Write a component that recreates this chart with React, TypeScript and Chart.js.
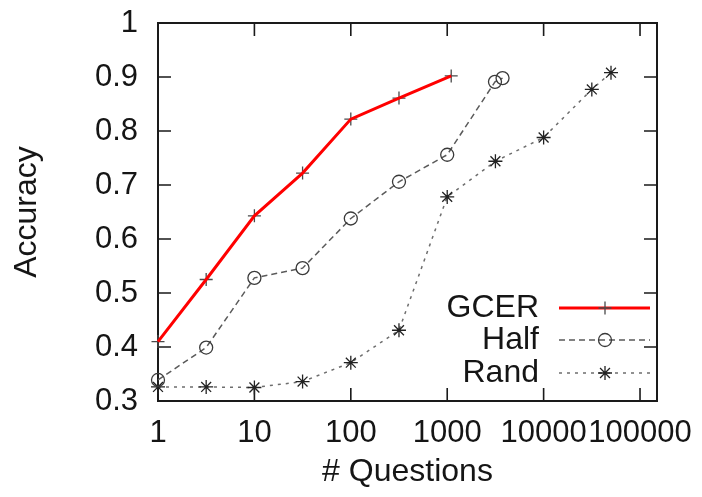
import { useEffect, useRef } from 'react';
import { Chart, registerables } from 'chart.js';

Chart.register(...registerables);

// ---- data ----
const seriesNames = ['GCER', 'Half', 'Rand'];
const gcerX = [1, 3.16, 10, 31.6, 100, 316, 1100];
const gcerY = [0.41, 0.525, 0.643, 0.722, 0.822, 0.861, 0.902];
const halfX = [1, 3.16, 10, 31.6, 100, 316, 1000, 3130, 3750];
const halfY = [0.339, 0.399, 0.528, 0.546, 0.638, 0.706, 0.756, 0.891, 0.898];
const randX = [1, 3.16, 10, 31.6, 100, 316, 1000, 3162, 10000, 31623, 50000];
const randY = [0.326, 0.326, 0.325, 0.336, 0.371, 0.431, 0.678, 0.744, 0.788, 0.877, 0.908];
const xTickValues = [1, 10, 100, 1000, 10000, 100000];
const yTickValues = [0.3, 0.4, 0.5, 0.6, 0.7, 0.8, 0.9, 1.0];
const xTitle = '# Questions';
const yTitle = 'Accuracy';

const toPoints = (xs: number[], ys: number[]) => xs.map((x, i) => ({ x, y: ys[i] }));

const FONT = '"Liberation Sans", Arial, sans-serif';
const TEXT = '#151515';

function drawMarker(ctx: CanvasRenderingContext2D, style: string, x: number, y: number, r: number) {
  ctx.beginPath();
  if (style === 'circle') {
    ctx.arc(x, y, r, 0, Math.PI * 2);
  } else {
    ctx.moveTo(x - r, y);
    ctx.lineTo(x + r, y);
    ctx.moveTo(x, y - r);
    ctx.lineTo(x, y + r);
    if (style === 'star') {
      const d = r * Math.SQRT1_2;
      ctx.moveTo(x - d, y - d);
      ctx.lineTo(x + d, y + d);
      ctx.moveTo(x - d, y + d);
      ctx.lineTo(x + d, y - d);
    }
  }
  ctx.stroke();
}

const framePlugin = {
  id: 'frameTicks',
  beforeDatasetsDraw(chart: any) {
    const { ctx, chartArea: a, scales } = chart;
    const L = 13;
    ctx.save();
    ctx.strokeStyle = '#1a1a1a';
    ctx.lineWidth = 1.6;
    ctx.beginPath();
    for (const v of xTickValues) {
      const px = scales.x.getPixelForValue(v);
      if (px <= a.left + 1 || px >= a.right - 1) continue;
      ctx.moveTo(px, a.bottom);
      ctx.lineTo(px, a.bottom - L);
      ctx.moveTo(px, a.top);
      ctx.lineTo(px, a.top + L);
    }
    for (const v of yTickValues) {
      const py = scales.y.getPixelForValue(v);
      if (py <= a.top + 1 || py >= a.bottom - 1) continue;
      ctx.moveTo(a.left, py);
      ctx.lineTo(a.left + L, py);
      ctx.moveTo(a.right, py);
      ctx.lineTo(a.right - L, py);
    }
    ctx.stroke();
    ctx.lineWidth = 2;
    ctx.strokeRect(a.left, a.top, a.right - a.left, a.bottom - a.top);
    ctx.restore();
  },
};

const legendPlugin = {
  id: 'insideLegend',
  afterDraw(chart: any) {
    const { ctx, chartArea: a } = chart;
    const ds = chart.data.datasets;
    const items = [
      { label: seriesNames[0], line: ds[0], marker: ds[3] },
      { label: seriesNames[1], line: ds[1], marker: ds[1] },
      { label: seriesNames[2], line: ds[2], marker: ds[2] },
    ];
    const offsets = [93, 61, 28];
    const textX = a.right - 118;
    const x0 = a.right - 98;
    const x1 = a.right - 7;
    const mx = a.right - 52;
    ctx.save();
    items.forEach((it, i) => {
      const y = a.bottom - offsets[i];
      ctx.font = `32px ${FONT}`;
      ctx.fillStyle = TEXT;
      ctx.textAlign = 'right';
      ctx.textBaseline = 'middle';
      ctx.fillText(it.label, textX, y);
      // line sample
      ctx.strokeStyle = it.line.borderColor;
      ctx.lineWidth = it.line.borderWidth;
      ctx.setLineDash(it.line.borderDash || []);
      ctx.beginPath();
      ctx.moveTo(x0, y);
      ctx.lineTo(x1, y);
      ctx.stroke();
      ctx.setLineDash([]);
      // marker
      ctx.strokeStyle = it.marker.pointBorderColor;
      ctx.lineWidth = it.marker.pointBorderWidth;
      drawMarker(ctx, it.marker.pointStyle, mx, y, it.marker.pointRadius);
    });
    ctx.restore();
  },
};

export default function App() {
  const ref = useRef<HTMLCanvasElement | null>(null);

  useEffect(() => {
    document.body.style.margin = '0';
    const canvas = ref.current;
    if (!canvas) return;
    const chart = new Chart(canvas, {
      type: 'scatter',
      data: {
        datasets: [
          {
            label: seriesNames[0],
            data: toPoints(gcerX, gcerY),
            showLine: true,
            borderColor: '#ff0000',
            borderWidth: 3,
            pointRadius: 0,
            order: 0,
            clip: false,
          } as any,
          {
            label: seriesNames[1],
            data: toPoints(halfX, halfY),
            showLine: true,
            borderColor: '#5a5a5a',
            borderWidth: 1.5,
            borderDash: [6, 4],
            pointStyle: 'circle',
            pointRadius: 6.5,
            pointBorderColor: '#3a3a3a',
            pointBorderWidth: 1.3,
            pointBackgroundColor: 'rgba(0,0,0,0)',
            order: 1,
            clip: false,
          },
          {
            label: seriesNames[2],
            data: toPoints(randX, randY),
            showLine: true,
            borderColor: '#6e6e6e',
            borderWidth: 1.5,
            borderDash: [3, 5],
            pointStyle: 'star',
            pointRadius: 7,
            pointBorderColor: '#222222',
            pointBorderWidth: 1.3,
            order: 2,
            clip: false,
          },
          {
            label: seriesNames[0] + ' marks',
            data: toPoints(gcerX, gcerY),
            showLine: false,
            pointStyle: 'cross',
            pointRadius: 6.5,
            pointBorderColor: '#4a4a4a',
            pointBorderWidth: 1.3,
            order: 3,
            clip: false,
          },
        ],
      },
      options: {
        animation: false,
        responsive: false,
        devicePixelRatio: 1,
        layout: { padding: { left: 0, top: 23, right: 45, bottom: 0 } },
        plugins: {
          legend: { display: false },
          tooltip: { enabled: false },
        },
        scales: {
          x: {
            type: 'logarithmic',
            min: 1,
            max: 150000,
            grid: { display: false, drawTicks: false },
            border: { display: false },
            afterBuildTicks: (scale: any) => {
              scale.ticks = xTickValues.map((v) => ({ value: v }));
            },
            afterFit: (scale: any) => {
              scale.height = 96;
              scale.paddingLeft = 0;
              scale.paddingRight = 0;
            },
            ticks: {
              autoSkip: false,
              maxRotation: 0,
              minRotation: 0,
              padding: 14,
              color: TEXT,
              font: { family: FONT, size: 31 },
              callback: (v: any) => String(v),
            },
            title: {
              display: true,
              text: xTitle,
              color: TEXT,
              font: { family: FONT, size: 32 },
              padding: { top: 0, bottom: 6 },
            },
          },
          y: {
            type: 'linear',
            min: 0.3,
            max: 1,
            grid: { display: false, drawTicks: false },
            border: { display: false },
            afterBuildTicks: (scale: any) => {
              scale.ticks = yTickValues.map((v) => ({ value: v }));
            },
            afterFit: (scale: any) => {
              scale.width = 158;
              scale.paddingTop = 0;
              scale.paddingBottom = 0;
            },
            ticks: {
              autoSkip: false,
              padding: 20,
              color: TEXT,
              font: { family: FONT, size: 31 },
              callback: (v: any) => String(Math.round(Number(v) * 10) / 10),
            },
            title: {
              display: true,
              text: yTitle,
              color: TEXT,
              font: { family: FONT, size: 32 },
              padding: { top: 8, bottom: 0 },
            },
          },
        },
      },
      plugins: [framePlugin, legendPlugin],
    });
    return () => chart.destroy();
  }, []);

  return (
    <div style={{ width: 702, height: 497, background: '#fff' }}>
      <canvas ref={ref} width={702} height={497} style={{ display: 'block' }} />
    </div>
  );
}
